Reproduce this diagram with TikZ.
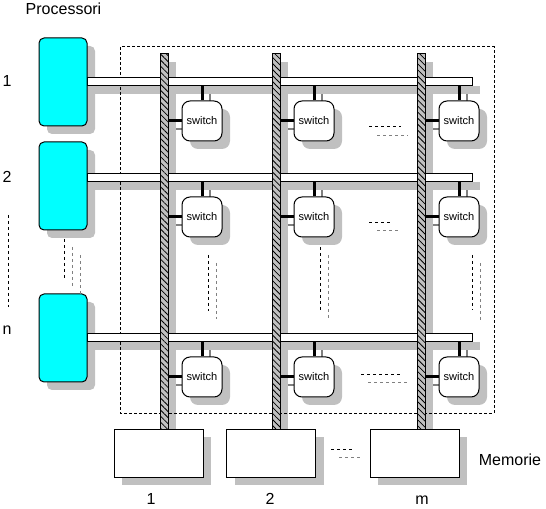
\documentclass[tikz,border=0pt]{standalone}
\usepackage{fontspec}
\setmainfont{Liberation Sans}
\usetikzlibrary{patterns.meta}

\definecolor{shadowgray}{RGB}{192,192,192}
\definecolor{linegray}{RGB}{128,128,128}
\definecolor{proccyan}{RGB}{0,255,255}

\tikzset{
  proc/.style={draw, line width=0.75pt, fill=proccyan, rounded corners=3.75pt,
    minimum width=36pt, minimum height=66pt, inner sep=0pt},
  membox/.style={draw, line width=0.75pt, fill=white,
    minimum width=66.75pt, minimum height=36pt, inner sep=0pt},
  switchbox/.style={draw, line width=0.75pt, fill=white, rounded corners=6pt,
    minimum size=30pt, inner sep=0pt, font=\fontsize{8.3}{10}\selectfont},
  hbus/.style={draw, line width=0.75pt, fill=white,
    minimum width=288.75pt, minimum height=6pt, inner sep=0pt},
  vbusbody/.style={minimum width=6pt, minimum height=281.25pt, inner sep=0pt},
  vbus/.style={vbusbody, draw, line width=0.75pt, fill=shadowgray,
    postaction={pattern={Lines[angle=-45,distance=3.2pt,line width=0.6pt]}}},
  castshadow/.style={fill=shadowgray, draw=none},
  link/.style={line width=2.25pt},
  linkshadow/.style={line width=1.5pt, linegray},
  frame/.style={line width=0.75pt, dash pattern=on 2.25pt off 1.5pt},
  dots/.style={line width=0.75pt, dash pattern=on 2.25pt off 2.25pt},
  lbl/.style={font=\fontsize{12}{14}\selectfont, inner sep=0pt, anchor=base}
}

\begin{document}
\begin{tikzpicture}[x=0.75pt, y=-0.75pt]
  \useasboundingbox (0,0) rectangle (546,509);

  % Shadows
  \foreach \r/\py in {1/82, 2/186, 3/338}
    \node[proc, castshadow] at (71,\py+8) {};
  \foreach \r/\hy in {1/82, 2/178, 3/338}
    \node[hbus, castshadow] (hs\r) at (287.5,\hy+8) {};
  \foreach \c/\vx/\mx in {1/164/158.5, 2/276/271, 3/421/414.5} {
    \node[vbusbody, castshadow] (vs\c) at (\vx+8,249.5) {};
    \node[membox, castshadow] at (\mx+8,461) {};
  }
  \foreach \c/\sx in {1/202, 2/314, 3/459}
    \foreach \r/\sy in {1/121, 2/217, 3/377} {
      \node[switchbox, castshadow] (ss\c\r) at (\sx+8,\sy+8) {};
      \draw[linkshadow] (ss\c\r.north) -- (ss\c\r.north |- hs\r.south);
      \draw[linkshadow] (ss\c\r.west) -- (ss\c\r.west -| vs\c.east);
    }

  % Crossbar frame
  \draw[frame] (120,47) rectangle (494,413);

  % Processor buses
  \foreach \r/\hy in {1/82, 2/178, 3/338}
    \node[hbus] (h\r) at (279.5,\hy) {};

  % Memory buses
  \foreach \c/\vx in {1/164, 2/276, 3/421}
    \node[vbus] (v\c) at (\vx,241.5) {};

  % Processors
  \foreach \r/\py in {1/82, 2/186, 3/338}
    \node[proc] (p\r) at (63,\py) {};

  % Memories
  \foreach \c/\mx in {1/158.5, 2/271, 3/414.5}
    \node[membox] (m\c) at (\mx,453) {};

  % Switches
  \foreach \c/\sx in {1/202, 2/314, 3/459}
    \foreach \r/\sy in {1/121, 2/217, 3/377} {
      \node[switchbox] (s\c\r) at (\sx,\sy) {switch};
      \draw[link] (s\c\r.north) -- (s\c\r.north |- h\r.south);
      \draw[link] (s\c\r.west) -- (s\c\r.west -| v\c.east);
    }

  % Ellipsis marks
  \draw[dots] (8,215) -- (8,307);
  \draw[dots] (64,239) -- (64,278);
  \draw[dots, linegray] (72,247) -- (72,286);
  \draw[dots, linegray] (80,255) -- (80,294);

  \draw[dots] (369,127) -- (401,127);
  \draw[dots, linegray] (377,136) -- (408,136);
  \draw[dots] (369,223) -- (391,223);
  \draw[dots, linegray] (377,231) -- (398,231);
  \draw[dots] (361,375) -- (400,375);
  \draw[dots, linegray] (368,383) -- (408,383);

  \draw[dots] (208,255) -- (208,311);
  \draw[dots, linegray] (216,263) -- (216,319);
  \draw[dots] (320,247) -- (320,310);
  \draw[dots, linegray] (328,255) -- (328,320);
  \draw[dots] (472,255) -- (472,310);
  \draw[dots, linegray] (480,263) -- (480,320);

  \draw[dots] (331,449) -- (352,449);
  \draw[dots, linegray] (339,457) -- (360,457);

  % Labels
  \node[lbl] (tproc) at (63.5,15) {Processori};
  \node[lbl] (tp1) at (7,87) {1};
  \node[lbl] (tp2) at (7,183) {2};
  \node[lbl] (tpn) at (7,335) {n};
  \node[lbl] (tmem) at (510,465) {Memorie};
  \node[lbl] (tm1) at (151,504) {1};
  \node[lbl] (tm2) at (270,504) {2};
  \node[lbl] (tmm) at (422,504) {m};
\end{tikzpicture}
\end{document}
